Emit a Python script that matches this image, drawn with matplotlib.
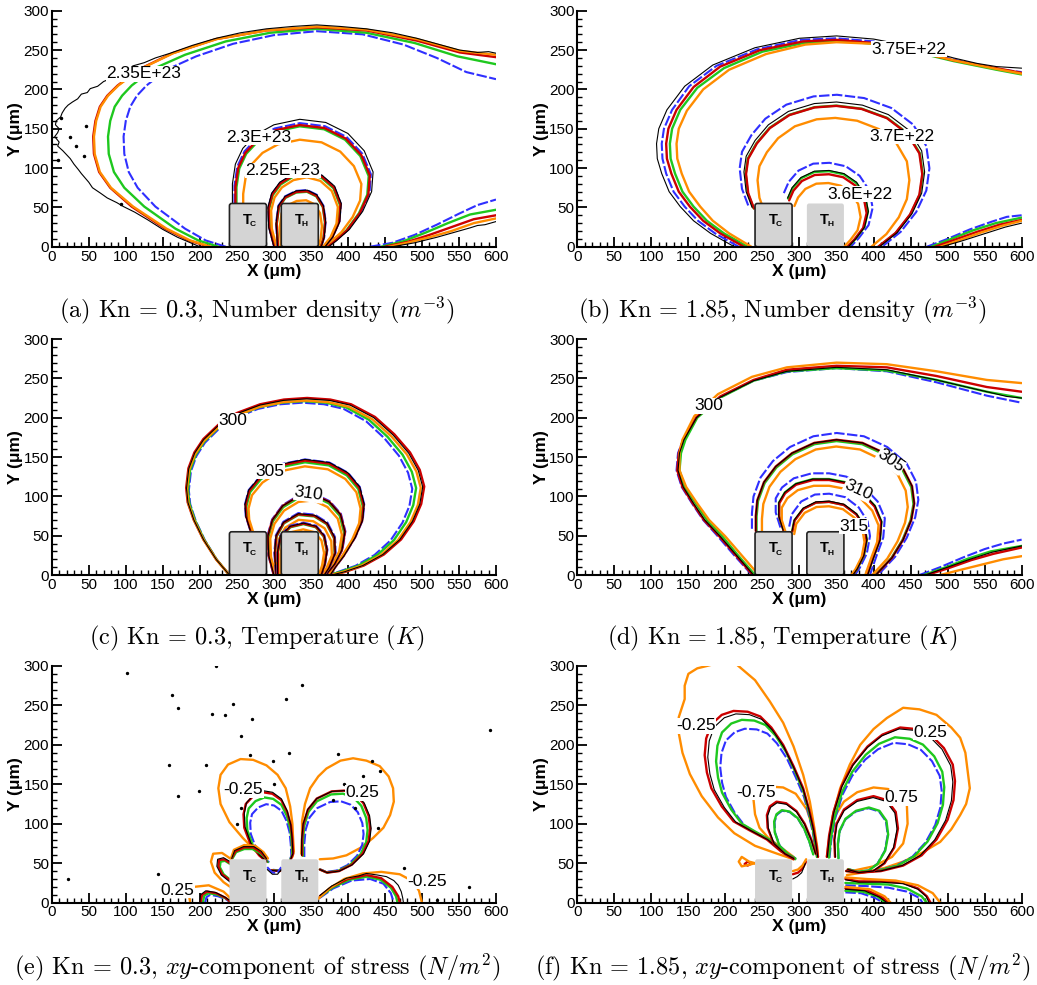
import numpy as np
import matplotlib.pyplot as plt
from matplotlib.patches import FancyBboxPatch

plt.rcParams['font.family'] = 'Liberation Sans'
plt.rcParams['mathtext.fontset'] = 'cm'

# ---------------- data (x, y in micrometres) ----------------
# methods: k = black (DSMC), b = blue dashed, g = green, r = red, o = orange

# (a) Kn = 0.3, number density
A_OUTER = {
    'o': [(215,0),(187,8),(155,23),(110,51),(80,75),(65,95),(58,118),(57,140),(60,160),(66,178),(76,192),
          (90,205),(120,226),(164,246),(223,264),(290,275),(358,280),(425,276),(493,264),(551,249),(600,244)],
    'r': [(213,0),(185,8),(153,23),(108,51),(79,75),(64,95),(57,118),(56,140),(59,160),(65,178),(75,192),
          (89,205),(119,226),(163,246),(222,264),(290,275),(358,279),(425,275),(493,262),(551,247),(600,241)],
    'g': [(225,0),(198,8),(167,23),(125,51),(98,75),(84,95),(77,118),(76,140),(79,160),(85,178),(95,192),
          (108,205),(137,226),(180,244),(235,261),(295,272),(358,277),(425,272),(490,259),(548,242),(600,232)],
    'b': [(235,0),(208,8),(180,23),(140,51),(116,75),(104,95),(98,118),(97,140),(100,160),(106,178),(115,192),
          (128,205),(155,225),(195,242),(245,258),(300,269),(358,274),(420,270),(475,257),(520,240),(560,222),(600,213)],
    'k': [(200,0),(185,6),(170,12),(150,22),(130,34),(112,44),(97,51),(88,56),(75,62),(66,68),(55,75),(50,82),
          (40,93),(36,98),(30,105),(25,112),(22,115),(15,122),(8,128),(10,133),(4,140),(8,145),(10,150),(5,155),
          (6,160),(12,165),(14,170),(18,176),(22,180),(28,184),(35,188),(40,194),(48,196),(52,201),(62,204),
          (70,210),(80,214),(88,220),(100,225),(110,230),(125,234),(140,240),(160,246),(190,256),(222,265),
          (255,272),(290,277),(325,280),(358,282),(390,280),(425,277),(460,272),(493,265),(520,258),(551,250),
          (575,247),(590,248),(600,246)],
}
A_TAIL = {
    'o': [(455,0),(480,5),(510,12),(540,20),(570,30),(600,36)],
    'r': [(450,0),(480,6),(510,15),(540,25),(570,35),(600,40)],
    'g': [(445,0),(475,7),(505,18),(535,30),(565,41),(600,47)],
    'b': [(430,0),(460,5),(490,15),(520,28),(550,42),(575,53),(600,60)],
    'k': [(460,0),(490,5),(520,12),(535,16),(550,20),(565,24),(575,27),(585,28),(600,32)],
}
A_MID = [(244,56),(244,80),(248,105),(258,125),(275,142),(300,155),(335,162),(370,158),(400,144),
         (422,122),(434,95),(432,70),(420,45),(402,22),(385,8),(374,0)]
A_MID_S = {'k': (1.0, 1.0), 'b': (0.97, 0.97), 'r': (0.955, 0.955), 'g': (0.94, 0.945), 'o': (0.84, 0.84)}
A_IN = [(300,0),(293,25),(292,50),(297,68),(308,82),(325,92),(345,96),(365,91),(382,77),(391,55),
        (389,32),(380,13),(369,0)]
A_IN_S = {'k': (1.0, 1.0), 'b': (0.99, 0.99), 'r': (0.98, 0.98), 'g': (0.965, 0.965), 'o': (0.91, 0.92)}
A_CORE = [(305,0),(303,30),(306,52),(315,64),(330,71),(345,72),(358,66),(367,52),(370,32),(368,12),(364,0)]
A_CORE_S = {'k': (1.0, 1.0), 'b': (1.0, 1.0), 'r': (0.98, 0.98), 'g': (0.97, 0.97), 'o': (0.85, 0.82)}
A_LABELS = [('2.35E+23', 124, 220, 0), ('2.3E+23', 279, 139, 0), ('2.25E+23', 312, 97, 0)]
A_SPECKS = [(46,153),(44,115),(12,164),(9,110),(94,54),(25,140),(33,128)]

# (b) Kn = 1.85, number density
B_OUTER = {
    'k': [(212,0),(180,17),(157,33),(139,51),(124,70),(114,93),(108,112),(107,131),(110,150),(121,174),
          (145,204),(183,231),(240,253),(300,265),(350,268),(400,264),(450,255),(508,240),(540,233),(566,229),(600,227)],
    'b': [(218,0),(186,17),(163,33),(145,51),(130,70),(120,93),(115,112),(114,131),(117,150),(128,174),
          (151,204),(188,230),(243,251),(302,263),(350,265),(400,261),(450,251),(508,238),(566,226),(600,222)],
    'r': [(225,0),(193,17),(170,33),(152,51),(137,70),(127,93),(121,112),(120,131),(123,150),(134,174),
          (157,203),(193,229),(247,250),(305,261),(350,263),(400,259),(450,250),(508,237),(566,227),(600,221)],
    'g': [(230,0),(198,17),(175,33),(157,51),(142,70),(132,93),(126,112),(125,131),(128,150),(139,174),
          (162,202),(198,227),(250,248),(306,259),(350,262),(400,258),(450,249),(508,236),(566,225),(600,219)],
    'o': [(235,0),(205,17),(183,33),(166,51),(151,70),(141,93),(135,112),(134,131),(137,150),(148,173),
          (170,200),(205,225),(255,245),(308,257),(350,260),(400,258),(450,250),(508,237),(566,226),(600,220)],
}
B_TAIL = {
    'b': [(472,0),(500,10),(530,22),(560,32),(580,38),(600,40)],
    'g': [(478,0),(505,10),(535,21),(565,30),(600,37)],
    'r': [(483,0),(510,9),(540,19),(570,28),(600,34)],
    'o': [(490,0),(515,8),(545,18),(575,27),(600,33)],
    'k': [(492,0),(518,7),(548,16),(578,25),(600,30)],
}
B_MID = [(236,50),(228,70),(225,95),(228,115),(240,135),(258,155),(285,172),(320,182),(350,184),(385,180),
         (420,168),(448,148),(465,122),(469,95),(465,68),(452,42),(432,18),(408,0)]
B_MID_S = {'k': (1.0, 1.0), 'b': (1.05, 1.05), 'r': (0.975, 0.973), 'g': (0.98, 0.975), 'o': (0.84, 0.89)}
B_IN = [(284,62),(290,75),(302,88),(320,96),(340,97),(360,93),(377,82),(389,65),(393,45),(388,25),(376,10),(366,0)]
B_IN_S = {'k': (1.0, 1.0), 'b': (1.1, 1.1), 'r': (0.96, 0.95), 'g': (0.99, 0.99), 'o': (0.82, 0.835)}
B_LABELS = [('3.75E+22', 448, 251, 0), ('3.7E+22', 438, 140, 0), ('3.6E+22', 382, 67, 0)]

# (c) Kn = 0.3, temperature
C_OUTER = [(240,0),(222,20),(205,45),(192,70),(184,92),(182,110),(185,135),(193,155),(205,172),(225,190),
           (250,205),(281,216),(313,222),(344,224),(375,222),(403,216),(435,200),(461,178),(482,155),
           (495,133),(501,112),(497,90),(487,68),(470,45),(447,26),(420,12),(395,4),(378,0)]
C_OUTER_S = {'k': (1.0, 1.0), 'r': (1.008, 1.005), 'o': (0.99, 0.99), 'g': (0.966, 0.987), 'b': (0.946, 0.978)}
C_305 = [(268,57),(262,75),(261,90),(266,108),(281,125),(305,140),(342,147),(375,143),(400,130),(416,112),
         (422,90),(420,70),(410,48),(395,25),(383,10),(376,0)]
C_305_S = {'k': (1.0, 1.0), 'b': (1.0, 1.0), 'r': (0.99, 0.99), 'g': (0.975, 0.975), 'o': (0.94, 0.94)}
C_310 = [(300,0),(293,25),(292,50),(298,70),(312,88),(333,100),(355,102),(375,93),(390,77),(396,55),
         (392,32),(382,14),(370,0)]
C_310_S = {'k': (1.0, 1.0), 'b': (1.01, 1.01), 'r': (1.0, 1.0), 'g': (0.98, 0.98), 'o': (0.93, 0.93)}
C_315 = [(303,0),(301,28),(303,50),(313,67),(333,78),(355,76),(372,66),(382,48),(383,28),(375,10),(368,0)]
C_315_S = {'k': (1.0, 1.0), 'b': (1.01, 1.01), 'r': (0.99, 0.99), 'g': (0.98, 0.98), 'o': (0.9, 0.9)}
C_320 = [(305,0),(305,30),(309,50),(322,62),(340,66),(357,62),(368,50),(372,32),(369,14),(364,0)]
C_320_S = {'k': (1.0, 1.0), 'b': (1.01, 1.01), 'r': (0.99, 0.99), 'g': (0.98, 0.98), 'o': (0.88, 0.88)}
C_LABELS = [('300', 245, 196, 0), ('305', 295, 132, 0), ('310', 347, 103, -8)]

# (d) Kn = 1.85, temperature
D_OUTER = {
    'k': [(238,0),(215,25),(193,49),(172,70),(157,91),(143,112),(136,133),(138,155),(144,172),(161,200),
          (193,226),(238,247),(283,259),(350,264),(418,261),(485,248),(530,238),(553,233),(580,227),(600,225)],
    'r': [(237,0),(214,25),(192,49),(171,70),(156,91),(142,112),(135,133),(137,155),(143,172),(161,201),
          (193,227),(238,248),(283,261),(350,266),(418,264),(485,253),(553,239),(600,233)],
    'g': [(240,0),(217,25),(196,49),(175,70),(160,91),(145,112),(138,133),(140,155),(146,172),(162,200),
          (194,226),(238,247),(283,259),(350,263),(418,260),(485,248),(553,233),(600,225)],
    'b': [(236,0),(212,25),(190,49),(170,70),(155,91),(141,112),(134,133),(136,155),(143,172),(161,200),
          (193,226),(238,247),(283,258),(350,263),(418,259),(485,245),(553,228),(600,219)],
    'o': [(245,0),(222,25),(200,49),(178,70),(162,91),(147,112),(138,133),(138,155),(142,172),(158,202),
          (190,230),(236,252),(283,264),(350,270),(418,268),(485,259),(553,248),(600,244)],
}
D_TAIL = {
    'b': [(462,0),(490,10),(520,22),(550,33),(575,40),(600,45)],
    'k': [(470,0),(500,10),(530,20),(560,29),(600,37)],
    'g': [(468,0),(498,10),(528,21),(558,30),(600,37)],
    'r': [(472,0),(502,9),(532,19),(562,27),(600,35)],
    'o': [(490,0),(515,6),(545,13),(575,20),(600,24)],
}
D_305 = [(241,56),(241,75),(243,95),(252,118),(268,138),(290,155),(320,168),(350,172),(385,168),(415,155),
         (440,135),(452,113),(455,91),(451,70),(440,45),(425,22),(403,0)]
D_305_S = {'k': (1.0, 1.0), 'b': (1.05, 1.05), 'r': (1.0, 1.0), 'g': (0.99, 0.99), 'o': (0.92, 0.95)}
D_310 = [(278,57),(272,75),(272,92),(280,105),(295,116),(318,122),(340,122),(362,118),(385,105),(402,88),
         (411,68),(409,45),(400,22),(392,0)]
D_310_S = {'k': (1.0, 1.0), 'b': (1.06, 1.06), 'r': (0.99, 0.99), 'g': (0.995, 1.0), 'o': (0.94, 0.93)}
D_315 = [(290,56),(293,70),(305,85),(322,93),(340,94),(360,90),(377,78),(388,62),(391,45),(387,25),(378,8),(372,0)]
D_315_S = {'k': (1.0, 1.0), 'b': (1.08, 1.1), 'r': (0.99, 0.99), 'g': (1.0, 0.99), 'o': (0.94, 0.93)}
D_LABELS = [('300', 178, 215, 0), ('305', 423, 145, -35), ('310', 379, 108, -25), ('315', 373, 62, 0)]

# (e) Kn = 0.3, xy stress
E_L = [(290,52),(280,60),(268,75),(260,95),(259,112),(262,125),(272,135),(285,140),(298,138),(310,130),
       (318,115),(323,98),(325,80),(326,62),(320,48),(308,40),(296,41)]
E_L_S = {'k': (0.98, 1.02), 'r': (1.0, 1.0), 'g': (0.92, 0.93), 'b': (0.83, 0.84)}
E_L_OR = [(290,55),(276,65),(258,82),(240,102),(228,125),(225,145),(228,162),(238,175),(255,182),(272,181),
          (290,174),(305,162),(316,145),(322,122),(325,100),(326,80),(327,65),(325,58)]
E_R = [(338,60),(338,80),(340,100),(346,118),(358,132),(378,141),(395,142),(410,137),(421,126),(428,110),
       (430,94),(428,78),(420,62),(405,48),(388,40),(372,38),(362,42)]
E_R_S = {'k': (1.02, 1.0), 'r': (1.0, 1.0), 'g': (0.95, 0.96), 'b': (0.87, 0.86)}
E_R_OR = [(337,62),(338,80),(338,103),(342,125),(349,145),(360,160),(371,170),(390,180),(407,183),(425,180),
          (443,173),(455,160),(461,145),(462,128),(457,111),(448,95),(434,82),(418,70),(398,60),(380,56),(362,55)]
E_LR = {
    'o': [(360,5),(375,18),(395,30),(420,37),(445,39),(470,36),(488,27),(496,15),(500,0)],
    'r': [(362,8),(378,20),(400,30),(425,35),(445,31),(460,20),(468,8),(470,0)],
    'g': [(362,7),(379,19),(402,29),(426,33),(444,29),(458,19),(465,8),(467,0)],
    'b': [(362,6),(380,18),(405,28),(430,30),(448,24),(458,12),(462,0)],
    'k': [(362,9),(378,21),(398,31),(415,34),(425,37),(440,35),(452,33),(462,28),(468,22),(472,14),(474,6),(475,0)],
}
E_LL = {
    'o': [(187,0),(185,12),(192,20),(212,22),(232,14),(241,6)],
    'r': [(201,0),(203,10),(210,14),(222,12),(235,6),(240,2)],
    'g': [(204,0),(206,9),(212,12),(224,10),(236,5),(240,2)],
    'b': [(207,0),(209,7),(214,10),(225,8),(236,4),(240,1)],
    'k': [(200,0),(201,10),(208,15),(221,13),(234,7),(240,3)],
}
E_SIDE = {
    'o': [(241,56),(230,63),(218,62),(215,52),(220,38),(232,26),(241,20)],
    'r': [(241,50),(233,55),(226,54),(225,46),(230,36),(241,28)],
    'g': [(241,49),(234,53),(228,52),(227,45),(232,36),(241,29)],
    'k': [(241,52),(232,57),(224,55),(223,46),(229,35),(241,26)],
}
E_TOP = {
    'o': [(242,56),(246,67),(260,73),(275,72),(286,64),(292,56)],
    'r': [(243,56),(248,65),(260,70),(272,70),(282,64),(290,56)],
    'g': [(244,56),(249,64),(260,68),(271,68),(281,63),(290,56)],
    'k': [(243,56),(247,66),(259,71),(273,71),(283,65),(290,56)],
}
E_GAP = {
    'b': [(291,45),(298,38),(305,38),(310,45)],
    'k': [(291,42),(298,36),(305,36),(310,42)],
}
E_LABELS = [('-0.25', 259, 143, 0), ('0.25', 419, 139, 0), ('-0.25', 507, 27, 0), ('0.25', 170, 16, 0)]
E_SPECKS = [(101,291),(163,263),(170,247),(222,300),(245,252),(216,239),(234,238),(271,233),(338,276),
            (317,258),(255,211),(268,187),(321,190),(386,188),(592,219),(22,30),(144,36),(158,175),
            (209,175),(199,141),(170,135),(299,180),(564,20),(476,44),(520,3),(432,180),(443,167),
            (280,150),(255,120),(300,150),(395,150),(410,120),(440,95),(250,100),(420,160),(380,130)]

# (f) Kn = 1.85, xy stress
F_L = [(292,55),(275,65),(256,80),(232,92),(211,103),(195,122),(181,145),(175,165),(172,187),(174,208),
       (181,226),(195,238),(211,243),(230,242),(247,236),(262,222),(278,200),(292,173),(305,145),(313,118),
       (319,94),(323,72),(325,58)]
F_L_S = {'k': (0.97, 0.98), 'r': (1.0, 1.0), 'g': (0.89, 0.94), 'b': (0.85, 0.88)}
F_L_OR = [(292,55),(270,62),(240,72),(212,88),(190,108),(168,135),(152,163),(142,190),(137,215),(137,235),
          (145,258),(145,275),(150,290),(162,297),(175,300),(195,305),(215,302),(240,282),(260,255),(278,228),
          (292,198),(305,162),(314,128),(320,95),(324,70),(325,58)]
F_L75 = [(292,56),(280,62),(265,75),(257,95),(256,111),(260,122),(269,128),(282,126),(296,116),(307,100),
         (316,80),(322,62)]
F_L75_S = {'k': (0.98, 0.98), 'r': (1.0, 1.0), 'g': (0.8, 0.85), 'b': (0.79, 0.84)}
F_L75_OR = [[(238,130),(240,112),(246,95),(258,82),(275,70),(292,58)],
            [(262,147),(278,146),(295,138),(310,118),(318,95),(322,75),(324,60)]]
F_R = [(337,58),(340,85),(346,115),(357,148),(372,175),(392,198),(412,213),(436,222),(458,220),(478,212),
       (495,196),(507,175),(510,154),(508,130),(500,105),(485,80),(465,60),(440,47),(410,40),(380,38),(363,40)]
F_R_S = {'k': (0.98, 0.99), 'r': (1.0, 1.0), 'g': (0.9, 0.93), 'b': (0.876, 0.89)}
F_R_OR = [(337,58),(340,80),(345,110),(355,145),(368,175),(382,200),(400,220),(418,234),(440,247),(462,245),
          (485,238),(505,222),(517,209),(524,190),(526,175),(530,145),(525,125),(517,111),(505,93),(490,77),
          (465,63),(440,52),(415,44),(391,39),(364,35)]
F_R75 = [(348,58),(347,80),(350,100),(360,118),(378,130),(400,135),(418,130),(430,115),(433,94),(428,70),
         (415,50),(400,40),(380,38),(365,42)]
F_R75_S = {'k': (0.98, 0.98), 'r': (1.0, 1.0), 'g': (0.79, 0.84), 'b': (0.78, 0.83)}
F_R75_OR = [[(348,110),(360,128),(378,140),(400,146),(420,144)],
            [(445,124),(446,100),(440,75),(425,58),(400,46),(370,40)]]
F_LR = {
    'o': [(362,32),(390,30),(430,28),(460,22),(480,12),(490,0)],
    'r': [(362,30),(380,27),(410,27),(440,25),(460,18),(472,8),(477,0)],
    'k': [(362,29),(380,26),(410,26),(440,24),(460,17),(471,8),(475,0)],
    'g': [(362,25),(390,24),(420,23),(445,18),(465,8),(472,0)],
    'b': [(362,22),(390,21),(420,19),(445,14),(462,6),(466,0)],
}
F_LR_IN = {
    'o': [(362,20),(395,17),(415,8),(423,0)],
    'r': [(362,18),(390,16),(410,8),(420,0)],
    'k': [(362,17),(388,15),(408,7),(418,0)],
    'g': [(362,15),(385,14),(405,8),(416,0)],
    'b': [(362,13),(383,12),(402,6),(413,0)],
}
F_SMALL = {'o': [(240,50),(232,52),(222,58),(218,52),(222,46),(232,48),(240,50)],
           'r': [(236,50),(230,52),(226,49),(230,47),(236,50)]}
F_GAP = {'k': [(291,30),(297,33),(303,38),(308,50)], 'o': [(291,40),(298,42),(304,47),(309,55)],
         'r': [(291,36),(298,38),(304,43),(309,52)]}
F_LABELS = [('-0.25', 160, 224, 0), ('0.25', 476, 216, 0), ('-0.75', 241, 140, 0), ('0.75', 437, 133, 0)]

BOXES = [('C', 240, 290), ('H', 310, 360)]
BOX_TOP = 55
BOX_EDGE = {'a': (True, True), 'b': (True, False), 'c': (True, True), 'd': (True, True),
            'e': (False, False), 'f': (False, False)}

CAPTIONS = {
    'a': '(a) Kn = 0.3, Number density ($m^{-3}$)',
    'b': '(b) Kn = 1.85, Number density ($m^{-3}$)',
    'c': '(c) Kn = 0.3, Temperature ($K$)',
    'd': '(d) Kn = 1.85, Temperature ($K$)',
    'e': '(e) Kn = 0.3, $xy$-component of stress ($N/m^2$)',
    'f': '(f) Kn = 1.85, $xy$-component of stress ($N/m^2$)',
}

# ---------------- styles ----------------
STYLE = {
    'b': dict(color='#2f2fff', lw=1.5, ls=(0, (5, 1.2))),
    'g': dict(color='#1ec81e', lw=1.7),
    'r': dict(color='#cc0000', lw=1.7),
    'o': dict(color='#ff8c00', lw=1.7),
    'k': dict(color='black', lw=0.8),
}
ORDER = ['b', 'g', 'r', 'o', 'k']

AX_POS = {'a': [0.0499, 0.7495, 0.4284, 0.2396], 'b': [0.5567, 0.7495, 0.4285, 0.2396],
          'c': [0.0499, 0.4162, 0.4284, 0.2396], 'd': [0.5567, 0.4162, 0.4285, 0.2396],
          'e': [0.0499, 0.0836, 0.4284, 0.2403], 'f': [0.5567, 0.0836, 0.4285, 0.2403]}
CAP_POS = {'a': (0.248, 0.685), 'b': (0.755, 0.685), 'c': (0.248, 0.352), 'd': (0.755, 0.352),
           'e': (0.248, 0.018), 'f': (0.755, 0.018)}


def line(ax, pts, m):
    p = np.array(pts, float)
    ax.plot(p[:, 0], p[:, 1], solid_capstyle='round', zorder=2, **STYLE[m])


def family(ax, curves):
    for m in ORDER:
        if m in curves:
            line(ax, curves[m], m)


def scaled(ax, pts, scales, anchor):
    p = np.array(pts, float)
    for m in ORDER:
        if m in scales:
            sx, sy = scales[m]
            x = anchor[0] + sx * (p[:, 0] - anchor[0])
            y = anchor[1] + sy * (p[:, 1] - anchor[1])
            ax.plot(x, y, solid_capstyle='round', zorder=2, **STYLE[m])


def labels(ax, items):
    for txt, x, y, rot in items:
        ax.text(x, y, txt, fontsize=12.5, ha='center', va='center', rotation=rot, zorder=6,
                bbox=dict(facecolor='white', edgecolor='none', pad=0.2))


def setup(ax, key):
    ax.set_xlim(0, 600)
    ax.set_ylim(0, 300)
    for s in ['top', 'right']:
        ax.spines[s].set_visible(False)
    for s in ['left', 'bottom']:
        ax.spines[s].set_linewidth(1.5)
    ax.set_xticks(np.arange(0, 601, 50))
    ax.set_yticks(np.arange(0, 301, 50))
    ax.set_xticks(np.arange(0, 601, 10), minor=True)
    ax.set_yticks(np.arange(0, 301, 10), minor=True)
    ax.tick_params(which='major', direction='in', length=7, width=1.3, labelsize=11, pad=2)
    ax.tick_params(which='minor', direction='in', length=3.8, width=1.0)
    ax.set_xlabel('X (μm)', fontweight='bold', fontsize=12.5, labelpad=0)
    ax.set_ylabel('Y (μm)', fontweight='bold', fontsize=12.5, labelpad=0)
    for (name, x0, x1), edge in zip(BOXES, BOX_EDGE[key]):
        box = FancyBboxPatch((x0, 0), x1 - x0, BOX_TOP, boxstyle='round,pad=0,rounding_size=3',
                             facecolor='#d4d4d4', edgecolor='#222222' if edge else 'none',
                             lw=1.2, zorder=2.3, clip_on=False)
        ax.add_patch(box)
        xc = (x0 + x1) / 2
        ax.text(xc - 1, 34, 'T', fontweight='bold', fontsize=10.5, ha='center', va='center', zorder=2.4)
        ax.text(xc + 7, 28, name, fontweight='bold', fontsize=6, ha='center', va='center', zorder=2.4)


fig = plt.figure(figsize=(10.37, 9.85), dpi=100)
axes = {k: fig.add_axes(v) for k, v in AX_POS.items()}
for k, ax in axes.items():
    setup(ax, k)
    fig.text(CAP_POS[k][0], CAP_POS[k][1], CAPTIONS[k], fontfamily='cmr10', fontsize=17.5,
             ha='center', va='center')

# (a)
ax = axes['a']
family(ax, A_OUTER)
family(ax, A_TAIL)
scaled(ax, A_MID, A_MID_S, (335, 0))
scaled(ax, A_IN, A_IN_S, (340, 0))
scaled(ax, A_CORE, A_CORE_S, (336, 0))
sp = np.array(A_SPECKS, float)
ax.plot(sp[:, 0], sp[:, 1], 'o', ms=1.5, color='black', zorder=3)
labels(ax, A_LABELS)

# (b)
ax = axes['b']
family(ax, B_OUTER)
family(ax, B_TAIL)
scaled(ax, B_MID, B_MID_S, (340, 0))
scaled(ax, B_IN, B_IN_S, (335, 0))
labels(ax, B_LABELS)

# (c)
ax = axes['c']
scaled(ax, C_OUTER, C_OUTER_S, (240, 0))
scaled(ax, C_305, C_305_S, (340, 0))
scaled(ax, C_310, C_310_S, (337, 0))
scaled(ax, C_315, C_315_S, (337, 0))
scaled(ax, C_320, C_320_S, (337, 0))
labels(ax, C_LABELS)

# (d)
ax = axes['d']
family(ax, D_OUTER)
family(ax, D_TAIL)
scaled(ax, D_305, D_305_S, (345, 0))
scaled(ax, D_310, D_310_S, (340, 0))
scaled(ax, D_315, D_315_S, (338, 0))
labels(ax, D_LABELS)

# (e)
ax = axes['e']
line(ax, E_L_OR, 'o')
line(ax, E_R_OR, 'o')
scaled(ax, E_L, E_L_S, (312, 45))
scaled(ax, E_R, E_R_S, (362, 45))
for fam in [E_LR, E_LL, E_SIDE, E_TOP, E_GAP]:
    family(ax, fam)
sp = np.array(E_SPECKS, float)
ax.plot(sp[:, 0], sp[:, 1], 'o', ms=1.4, color='black', zorder=3)
labels(ax, E_LABELS)

# (f)
ax = axes['f']
line(ax, F_L_OR, 'o')
line(ax, F_R_OR, 'o')
for part in F_L75_OR + F_R75_OR:
    line(ax, part, 'o')
scaled(ax, F_L, F_L_S, (312, 55))
scaled(ax, F_L75, F_L75_S, (305, 56))
scaled(ax, F_R, F_R_S, (365, 45))
scaled(ax, F_R75, F_R75_S, (370, 45))
for fam in [F_LR, F_LR_IN, F_SMALL, F_GAP]:
    family(ax, fam)
labels(ax, F_LABELS)

fig.savefig('out.png', dpi=100)
